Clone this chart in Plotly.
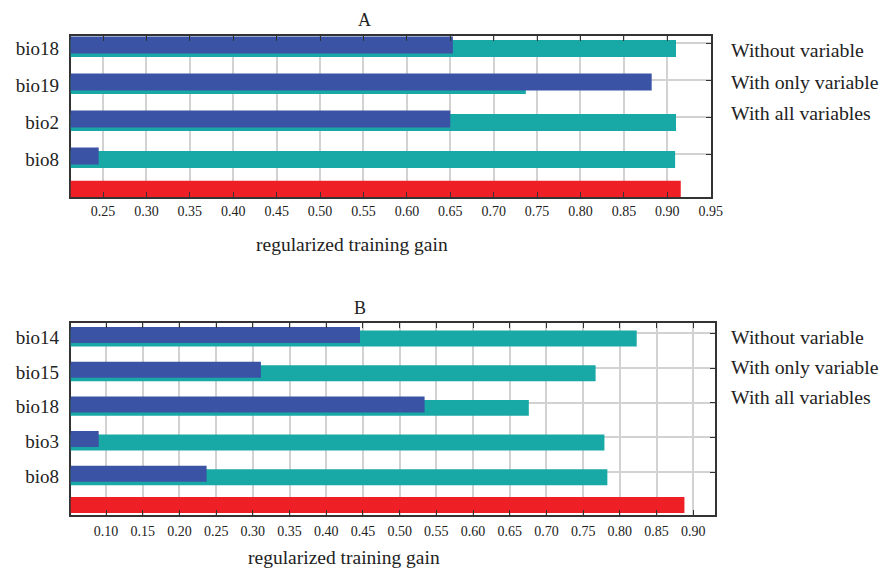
import plotly.graph_objects as go

# ---------------- data ----------------
series_names = ["Without variable", "With only variable", "With all variables"]

vars_a = ["bio18", "bio19", "bio2", "bio8"]
without_a = [0.910, 0.737, 0.910, 0.909]
only_a = [0.653, 0.882, 0.650, 0.245]
all_a = [0.9155]

vars_b = ["bio14", "bio15", "bio18", "bio3", "bio8"]
without_b = [0.823, 0.767, 0.676, 0.779, 0.783]
only_b = [0.446, 0.311, 0.534, 0.090, 0.237]
all_b = [0.888]

all_cat = ["all"]
panel_titles = ["A", "B"]
axis_title = "regularized training gain"

# ---------------- styles ----------------
C_TEAL = "#18A9A6"
C_BLUE = "#3A53A4"
C_RED = "#EE2026"
FONT = "Liberation Serif"
TXT = "#222222"
GRID = "#d2d2d2"
LINE = "#333333"

fig = go.Figure()


def add_panel(xa, ya, cats, without, only, allv):
    fig.add_trace(go.Bar(orientation="h", y=cats, x=without, name=series_names[0],
                         marker=dict(color=C_TEAL, line=dict(width=0)),
                         width=0.46, offset=-0.08, xaxis=xa, yaxis=ya, showlegend=False))
    fig.add_trace(go.Bar(orientation="h", y=cats, x=only, name=series_names[1],
                         marker=dict(color=C_BLUE, line=dict(width=0)),
                         width=0.46, offset=-0.18, xaxis=xa, yaxis=ya, showlegend=False))
    fig.add_trace(go.Bar(orientation="h", y=all_cat, x=allv, name=series_names[2],
                         marker=dict(color=C_RED, line=dict(width=0)),
                         width=0.46, offset=-0.28, xaxis=xa, yaxis=ya, showlegend=False))


add_panel("x", "y", vars_a, without_a, only_a, all_a)
add_panel("x2", "y2", vars_b, without_b, only_b, all_b)

xcommon = dict(ticks="inside", ticklen=5, tickcolor=LINE, mirror="ticks", showline=True,
               linecolor=LINE, linewidth=2, showgrid=True, gridcolor=GRID, gridwidth=1.5,
               dtick=0.05, tickformat=".2f", zeroline=False, automargin=False,
               tickfont=dict(family=FONT, size=14, color=TXT))
ycommon = dict(type="category", categoryorder="array", ticks="inside", ticklen=5,
               tickcolor=LINE, mirror="ticks", showline=True, linecolor=LINE, linewidth=2,
               layer="below traces", showgrid=True, gridcolor=GRID, gridwidth=1.5,
               zeroline=False, automargin=False, ticklabelstandoff=6,
               tickfont=dict(family=FONT, size=19, color=TXT))

fig.update_layout(
    width=882, height=570,
    margin=dict(l=0, r=0, t=0, b=0, autoexpand=False),
    paper_bgcolor="white", plot_bgcolor="white",
    barmode="overlay",
    font=dict(family=FONT, color=TXT),
    xaxis=dict(domain=[0.0802, 0.8061], anchor="y", range=[0.2128, 0.9503], tick0=0.25, **xcommon),
    yaxis=dict(domain=[0.6544, 0.9368], anchor="x", categoryarray=vars_a + all_cat,
               tickvals=vars_a, ticktext=vars_a, range=[4.16, -0.19], ticklabelshift=-5, **ycommon),
    xaxis2=dict(domain=[0.0802, 0.8107], anchor="y2", range=[0.0519, 0.9297], tick0=0.10,
                ticklabelstandoff=2, **xcommon),
    yaxis2=dict(domain=[0.0965, 0.4328], anchor="x2", categoryarray=vars_b + all_cat,
                tickvals=vars_b, ticktext=vars_b, range=[5.24, -0.29], ticklabelshift=-4, **ycommon),
)

ann = []


def txt(text, x, y, size, xanchor="center"):
    ann.append(dict(text=text, x=x, y=y, xref="paper", yref="paper", xanchor=xanchor,
                    yanchor="middle", showarrow=False,
                    font=dict(size=size, family=FONT, color=TXT)))


txt(panel_titles[0], 0.4138, 0.9649, 18)
txt(panel_titles[1], 0.4082, 0.4596, 18)
txt(axis_title, 0.3991, 0.5702, 19.5)
txt(axis_title, 0.390, 0.0211, 19.5)
for ys in ([0.9123, 0.8561, 0.8018], [0.4088, 0.3561, 0.3035]):
    for name, yy in zip(series_names, ys):
        txt(name, 0.8265, yy, 19.8, xanchor="left")
fig.update_layout(annotations=ann)

fig.write_html("out.html", config={"displayModeBar": False},
               post_script="document.body.style.margin='0';document.body.style.overflow='hidden';")
